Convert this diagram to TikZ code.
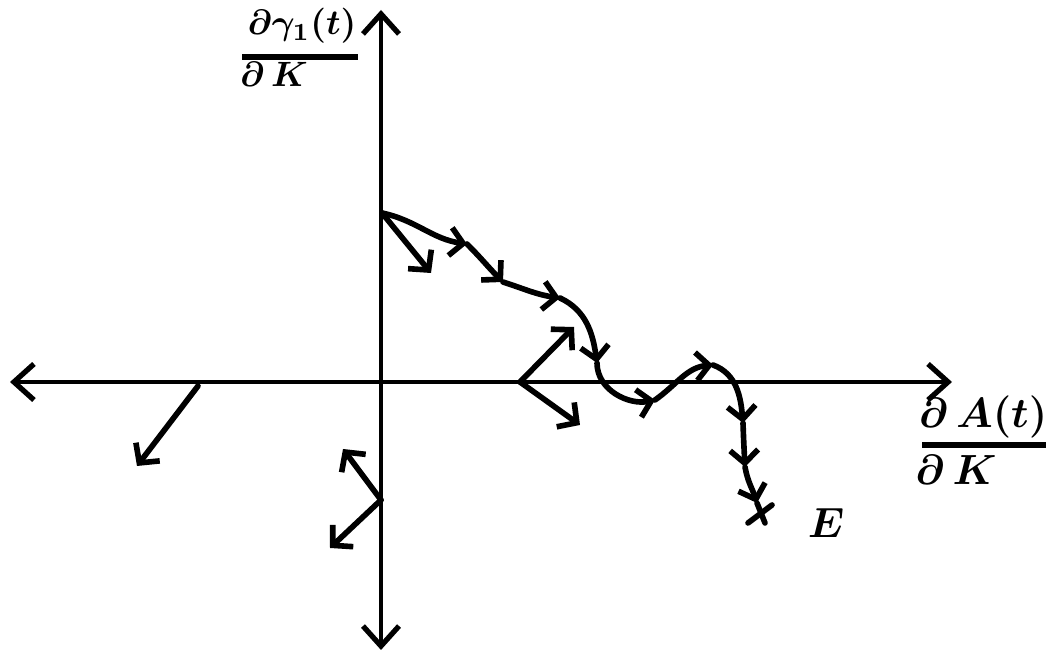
\documentclass[tikz,border=0pt]{standalone}
\usetikzlibrary{arrows.meta}
\begin{document}
\begin{tikzpicture}[x=0.01cm,y=-0.01cm,
  axisline/.style={line width=1.1pt,line cap=round,-{Straight Barb[length=0.2cm,width=0.36cm,line width=1.5pt]}},
  traj/.style={line width=1.6pt,line cap=round,line join=round},
  head/.style={-{Straight Barb[length=0.13cm,width=0.28cm,line width=1.6pt]}},
  vec/.style={line width=1.6pt,line cap=round,-{Straight Barb[length=0.14cm,width=0.3cm,line width=1.6pt]}},
  lbl/.style={inner sep=0pt,font=\boldmath}
]
\useasboundingbox (0,0) rectangle (1048,662);
% axes
\coordinate (O) at (381,382);
\coordinate (Xp) at (952,382);
\coordinate (Xn) at (10,382);
\coordinate (Yp) at (381,10);
\coordinate (Yn) at (381,650);
\draw[axisline] (O) -- (Xp);
\draw[axisline] (O) -- (Xn);
\draw[axisline] (O) -- (Yp);
\draw[axisline] (O) -- (Yn);
% axis labels
\node[lbl] (ynum) at (302,26) {$\partial\gamma_1(t)$};
\coordinate (yb1) at (242,57);
\coordinate (yb2) at (358,57);
\draw[line width=1.6pt] (yb1) -- (yb2);
\node[lbl] (yden) at (274,74) {$\partial\,K$};
\node[lbl,font=\large\boldmath] (xnum) at (983,417) {$\partial\,A(t)$};
\coordinate (xb1) at (922,445);
\coordinate (xb2) at (1046,445);
\draw[line width=1.6pt] (xb1) -- (xb2);
\node[lbl,font=\large\boldmath] (xden) at (956,470) {$\partial\,K$};
\node[lbl,font=\large\boldmath] (E) at (826,523) {$E$};
% trajectory
\coordinate (P0) at (382,213);
\coordinate (A1) at (467,244);
\coordinate (A2) at (503,282);
\coordinate (A3) at (560,298);
\coordinate (A4) at (597,363);
\coordinate (A5) at (655,400);
\coordinate (A6) at (713,365);
\coordinate (A7) at (743,423);
\coordinate (A8) at (745,467);
\coordinate (A9) at (757,503);
\coordinate (Z) at (765,523);
\coordinate (X1) at (748,523);
\coordinate (X2) at (772,505);
\draw[traj,head] (P0) to[out=-12,in=172] (A1);
\draw[traj,head] (A1) to[out=-45,in=135] (A2);
\draw[traj,head] (A2) to[out=-18,in=172] (A3);
\draw[traj,head] (A3) to[out=-25,in=98] (A4);
\draw[traj,head] (A4) to[out=-90,in=192] (A5);
\draw[traj,head] (A5) to[out=35,in=185] (A6);
\draw[traj,head] (A6) to[out=-20,in=95] (A7);
\draw[traj,head] (A7) to[out=-88,in=93] (A8);
\draw[traj,head] (A8) to[out=-80,in=108] (A9);
\draw[traj] (A9) -- (Z);
\draw[traj] (X1) -- (X2);
% vectors
\coordinate (B1) at (431,273);
\draw[vec] (P0) -- (B1);
\coordinate (C0) at (520,382);
\coordinate (C1) at (574,327);
\coordinate (C2) at (580,425);
\draw[vec] (C0) -- (C1);
\draw[vec] (C0) -- (C2);
\coordinate (D0) at (198,386);
\coordinate (D1) at (137,466);
\draw[vec] (D0) -- (D1);
\coordinate (F0) at (381,500);
\coordinate (F1) at (343,449);
\coordinate (F2) at (330,548);
\draw[vec] (F0) -- (F1);
\draw[vec] (F0) -- (F2);
\end{tikzpicture}
\end{document}
